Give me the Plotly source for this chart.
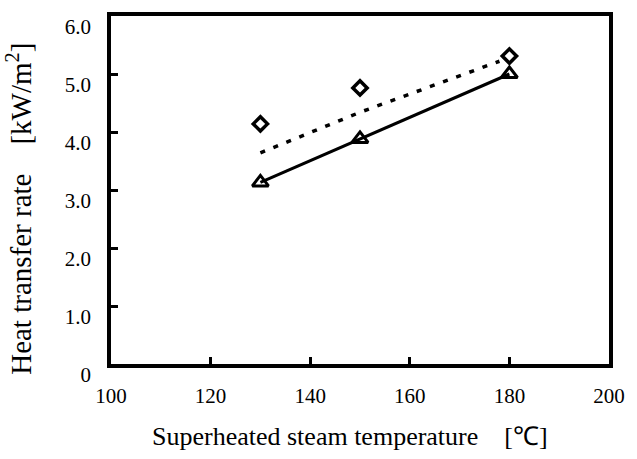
import plotly.graph_objects as go

# Data
temp = [130, 150, 180]
diamond_rate = [4.14, 4.76, 5.31]     # measured (diamonds)
triangle_rate = [3.13, 3.88, 5.00]    # measured (triangles, joined by solid line)
dotted_x = [130, 150, 178]
dotted_rate = [3.64, 4.34, 5.22]      # dotted trend line

x_ticks = [100, 120, 140, 160, 180, 200]
y_ticks = [0, 1, 2, 3, 4, 5, 6]
y_ticktext = ["0", "1.0", "2.0", "3.0", "4.0", "5.0", "6.0"]

x_title = "Superheated steam temperature\u00a0\u00a0\u00a0\u00a0[\u2103]"
y_title = "Heat transfer rate\u00a0\u00a0\u00a0\u00a0[kW/m<sup>2</sup>]"

FONT = "Liberation Serif"

fig = go.Figure()
fig.add_trace(go.Scatter(
    x=dotted_x, y=dotted_rate, mode="lines",
    line=dict(color="black", width=3.5, dash="5px,9px"),
    showlegend=False, hoverinfo="skip"))
fig.add_trace(go.Scatter(
    x=temp, y=triangle_rate, mode="lines+markers",
    line=dict(color="black", width=3),
    marker=dict(symbol="triangle-up-open", size=14, color="black",
                line=dict(width=3, color="black")),
    showlegend=False))
fig.add_trace(go.Scatter(
    x=temp, y=diamond_rate, mode="markers",
    marker=dict(symbol="diamond-open", size=11, color="black",
                line=dict(width=3.5, color="black")),
    showlegend=False))

fig.update_layout(
    width=637, height=459,
    margin=dict(l=111, r=14, t=15, b=95),
    paper_bgcolor="white", plot_bgcolor="white",
    font=dict(family=FONT, size=21, color="black"),
    xaxis=dict(
        range=[100, 200], tickvals=x_ticks,
        ticks="inside", ticklen=7, tickwidth=2.5, tickcolor="black",
        showline=True, linewidth=3.5, linecolor="black", mirror=True,
        showgrid=False, zeroline=False,
        tickfont=dict(family=FONT, size=21),
        ticklabelstandoff=10,
    ),
    yaxis=dict(
        range=[0, 6], tickvals=y_ticks, ticktext=y_ticktext,
        ticks="inside", ticklen=7, tickwidth=2.5, tickcolor="black",
        showline=True, linewidth=3.5, linecolor="black", mirror=True,
        showgrid=False, zeroline=False,
        tickfont=dict(family=FONT, size=21),
        ticklabelstandoff=12, ticklabelshift=11,
    ),
    annotations=[
        dict(text=x_title, xref="paper", yref="paper", x=0.48, y=-0.209,
             xanchor="center", yanchor="middle", showarrow=False,
             font=dict(family=FONT, size=26)),
        dict(text=y_title, xref="paper", yref="paper", x=-0.184, y=0.447,
             xanchor="center", yanchor="middle", showarrow=False, textangle=-90,
             font=dict(family=FONT, size=29)),
    ],
)

fig.write_html("out.html")
